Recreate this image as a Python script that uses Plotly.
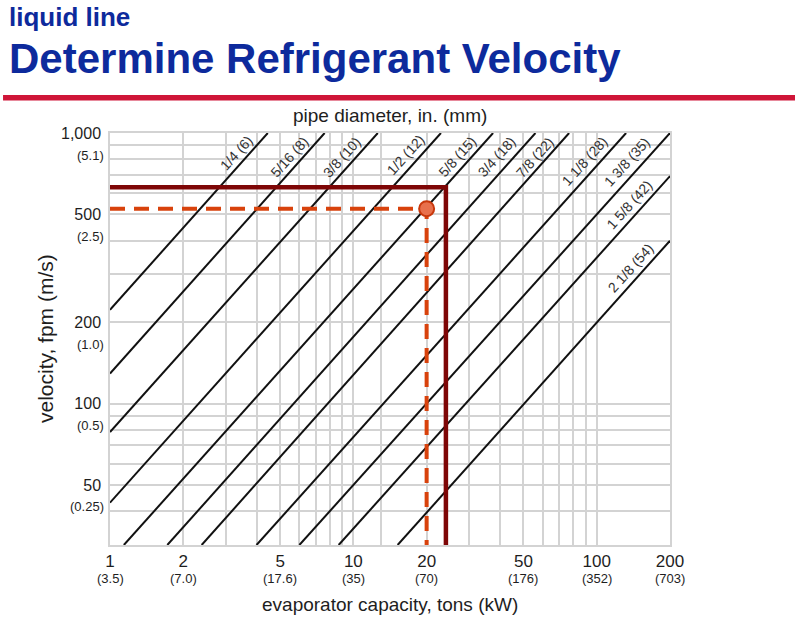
import numpy as np
import plotly.graph_objects as go

# ---------------- data ----------------
capacity_ticks = [1, 2, 5, 10, 20, 50, 100, 200]
capacity_kw = ["(3.5)", "(7.0)", "(17.6)", "(35)", "(70)", "(176)", "(352)", "(703)"]
capacity_grid = [1, 2, 3, 4, 5, 6, 7, 8, 9, 10, 13, 20, 30, 40, 50, 60, 70, 80, 90, 100, 200]

velocity_ticks = [50, 100, 200, 500, 1000]
velocity_labels = ["50", "100", "200", "500", "1,000"]
velocity_ms = ["(0.25)", "(0.5)", "(1.0)", "(2.5)", "(5.1)"]
velocity_grid = [40, 50, 60, 70, 80, 90, 100, 200, 300, 400, 500, 600, 700, 800, 900, 1000]

pipe_labels = ["1/4 (6)", "5/16 (8)", "3/8 (10)", "1/2 (12)", "5/8 (15)", "3/4 (18)",
               "7/8 (22)", "1 1/8 (28)", "1 3/8 (35)", "1 5/8 (42)", "2 1/8 (54)"]
pipe_cap_start = [1, 1, 1, 1, 1.14, 1.72, 2.38, 4.0, 6.0, 8.7, 15.2]
pipe_vel_start = [222, 129, 78.5, 43, 30, 30, 30, 30, 30, 30, 30]
pipe_cap_end = [4.45, 7.62, 12.6, 22.9, 37.5, 56, 77, 132, 200, 200, 200]
pipe_vel_end = [1000, 1000, 1000, 1000, 1000, 1000, 1000, 1000, 1000, 693, 400]

# label anchor points (capacity, velocity)
label_cap = [3.3, 5.45, 9.0, 16.4, 26.6, 38.8, 56.0, 89.5, 133.0, 135.5, 138.0]
label_vel = [845, 818, 812, 826, 818, 812, 812, 785, 780, 544, 316]

example_capacity = 20
example_velocity = 525
limit_capacity = 24
limit_velocity = 630
x_min, x_max = 1, 200
y_min, y_max = 30, 1000

# ---------------- styles ----------------
FONT = "Liberation Sans, Arial, sans-serif"
BLUE = "#0d2a9c"
GRID = "#d3d3d3"
DARKRED = "#7e0606"
ORANGE = "#d8420c"
TXT = "#1e1e1e"

fig = go.Figure()

for i in range(len(pipe_labels)):
    fig.add_trace(go.Scatter(
        x=[pipe_cap_start[i], pipe_cap_end[i]], y=[pipe_vel_start[i], pipe_vel_end[i]],
        mode="lines", line=dict(color="#111111", width=2), hoverinfo="skip", showlegend=False))

# dark red limit lines
fig.add_trace(go.Scatter(
    x=[x_min, limit_capacity, limit_capacity], y=[limit_velocity, limit_velocity, y_min],
    mode="lines", line=dict(color=DARKRED, width=4.5), showlegend=False, hoverinfo="skip"))

# orange dashed example lines
fig.add_trace(go.Scatter(
    x=[x_min, example_capacity, example_capacity], y=[example_velocity, example_velocity, y_min],
    mode="lines", line=dict(color=ORANGE, width=4, dash="15px,9px"), showlegend=False,
    hoverinfo="skip"))
fig.add_trace(go.Scatter(
    x=[example_capacity], y=[example_velocity], mode="markers",
    marker=dict(size=15, color="#e8704c", line=dict(color="#c8380c", width=2)),
    showlegend=False, hoverinfo="skip"))

annotations = []
for i, lab in enumerate(pipe_labels):
    annotations.append(dict(
        x=np.log10(label_cap[i]), y=np.log10(label_vel[i]), xref="x", yref="y",
        text=lab, showarrow=False, textangle=-48,
        font=dict(family=FONT, size=14, color="#333333")))

for v, ms in zip(velocity_ticks, velocity_ms):
    annotations.append(dict(
        x=-0.008, y=np.log10(v), xref="paper", yref="y", xanchor="right", yanchor="middle",
        text=ms, showarrow=False, yshift=-22,
        font=dict(family=FONT, size=13, color=TXT)))

for c, kw in zip(capacity_ticks, capacity_kw):
    annotations.append(dict(
        x=np.log10(c), y=0, xref="x", yref="paper", xanchor="center", yanchor="middle",
        text=kw, showarrow=False, yshift=-33,
        font=dict(family=FONT, size=13, color=TXT)))

# titles (paper coords relative to plot area 110..670 x 133..545 px)
annotations += [
    dict(x=-0.184, y=1.281, xref="paper", yref="paper", xanchor="left", yanchor="middle",
         text="<b>liquid line</b>", showarrow=False,
         font=dict(family=FONT, size=26, color=BLUE)),
    dict(x=-0.184, y=1.180, xref="paper", yref="paper", xanchor="left", yanchor="middle",
         text="<b>Determine Refrigerant Velocity</b>", showarrow=False,
         font=dict(family=FONT, size=42, color=BLUE)),
    dict(x=0.5, y=1.043, xref="paper", yref="paper", xanchor="center", yanchor="middle",
         text="pipe diameter, in. (mm)", showarrow=False,
         font=dict(family=FONT, size=19, color=TXT)),
    dict(x=0.5, y=-0.145, xref="paper", yref="paper", xanchor="center", yanchor="middle",
         text="evaporator capacity, tons (kW)", showarrow=False,
         font=dict(family=FONT, size=19, color=TXT)),
    dict(x=-0.116, y=0.5, xref="paper", yref="paper", xanchor="center", yanchor="middle",
         text="velocity, fpm (m/s)", showarrow=False, textangle=-90,
         font=dict(family=FONT, size=21, color=TXT)),
]

fig.update_layout(
    width=795, height=625,
    margin=dict(l=110, r=125, t=133, b=80, pad=0),
    paper_bgcolor="white", plot_bgcolor="white",
    annotations=annotations,
    shapes=[dict(type="rect", xref="paper", yref="paper", x0=-0.191, x1=1.225,
                 y0=1.079, y1=1.092, fillcolor="#cf1538", line=dict(width=0), layer="above")],
    xaxis=dict(
        type="log", range=[np.log10(x_min), np.log10(x_max)],
        tickvals=capacity_grid,
        ticktext=[str(c) if c in capacity_ticks else "" for c in capacity_grid],
        showgrid=True, gridcolor=GRID, gridwidth=1.5, zeroline=False,
        showline=True, linecolor=GRID, linewidth=1.5, mirror=True,
        ticks="", tickfont=dict(family=FONT, size=17, color=TXT),
    ),
    yaxis=dict(
        type="log", range=[np.log10(y_min), np.log10(y_max)],
        tickvals=velocity_grid,
        ticktext=[velocity_labels[velocity_ticks.index(v)] if v in velocity_ticks else ""
                  for v in velocity_grid],
        showgrid=True, gridcolor=GRID, gridwidth=1.5, zeroline=False,
        showline=True, linecolor=GRID, linewidth=1.5, mirror=True,
        ticks="", ticklabelstandoff=4, tickfont=dict(family=FONT, size=16, color=TXT),
    ),
)

fig.write_html("out.html", config={"displayModeBar": False},
               post_script="document.body.style.margin='0';document.body.style.overflow='hidden';")
